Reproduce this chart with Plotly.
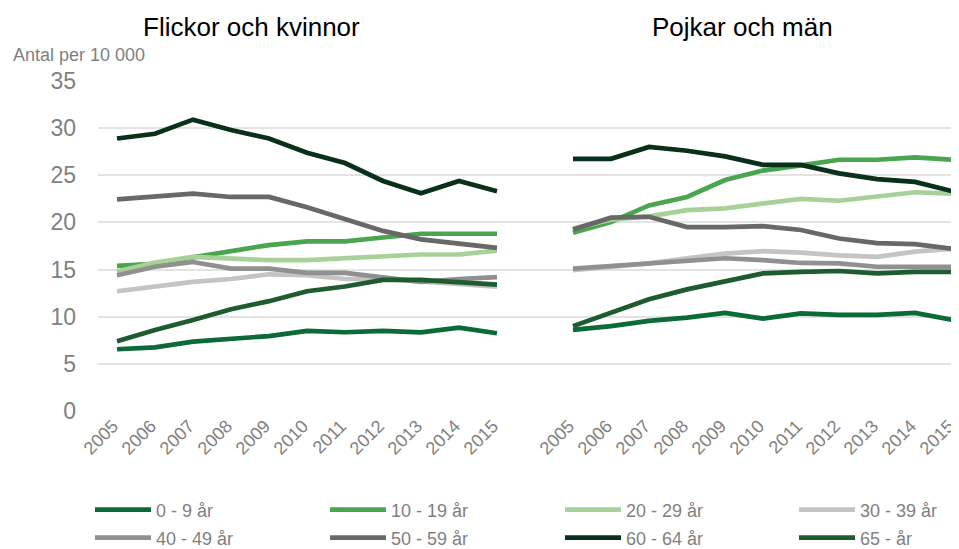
import plotly.graph_objects as go

years = ["2005", "2006", "2007", "2008", "2009", "2010", "2011", "2012", "2013", "2014", "2015"]
groups = ["0 - 9 år", "10 - 19 år", "20 - 29 år", "30 - 39 år",
          "40 - 49 år", "50 - 59 år", "60 - 64 år", "65 - år"]
colors = ["#0a6b38", "#49a54e", "#a8d19a", "#c4c4c4",
          "#909090", "#686868", "#08301b", "#1e5c30"]

# Flickor och kvinnor
f_0_9 = [6.55, 6.75, 7.35, 7.6, 7.95, 8.5, 8.35, 8.5, 8.35, 8.85, 8.25]
f_10_19 = [15.4, 15.6, 16.3, 17.0, 17.6, 18.0, 18.0, 18.4, 18.8, 18.8, 18.8]
f_20_29 = [14.8, 15.75, 16.35, 16.2, 16.0, 16.0, 16.2, 16.3, 16.6, 16.6, 17.0]
f_30_39 = [12.7, 13.25, 13.7, 14.0, 14.5, 14.4, 14.0, 14.0, 13.7, 13.5, 13.2]
f_40_49 = [14.4, 15.3, 15.8, 15.1, 15.1, 14.65, 14.65, 14.2, 13.7, 14.0, 14.2]
f_50_59 = [22.45, 22.7, 23.05, 22.7, 22.7, 21.6, 20.3, 19.1, 18.2, 17.8, 17.3]
f_60_64 = [28.9, 29.4, 30.9, 29.8, 28.9, 27.4, 26.3, 24.4, 23.1, 24.4, 23.3]
f_65 = [7.4, 8.6, 9.65, 10.8, 11.65, 12.7, 13.2, 13.9, 13.9, 13.7, 13.4]

# Pojkar och män
m_0_9 = [8.6, 9.0, 9.55, 9.9, 10.4, 9.8, 10.35, 10.2, 10.2, 10.4, 9.65]
m_10_19 = [18.9, 20.05, 21.8, 22.7, 24.5, 25.5, 26.05, 26.65, 26.65, 26.9, 26.65]
m_20_29 = [19.35, 20.3, 20.65, 21.3, 21.5, 22.0, 22.5, 22.3, 22.8, 23.2, 23.05]
m_30_39 = [14.95, 15.3, 15.65, 16.2, 16.7, 16.95, 16.8, 16.5, 16.35, 16.9, 17.2]
m_40_49 = [15.1, 15.35, 15.65, 15.9, 16.2, 16.0, 15.7, 15.65, 15.3, 15.3, 15.3]
m_50_59 = [19.25, 20.5, 20.6, 19.5, 19.5, 19.6, 19.2, 18.3, 17.8, 17.7, 17.2]
m_60_64 = [26.75, 26.75, 28.0, 27.6, 27.0, 26.1, 26.1, 25.2, 24.6, 24.3, 23.3]
m_65 = [9.0, 10.4, 11.85, 12.9, 13.8, 14.6, 14.75, 14.85, 14.6, 14.75, 14.75]

female = [f_0_9, f_10_19, f_20_29, f_30_39, f_40_49, f_50_59, f_60_64, f_65]
male = [m_0_9, m_10_19, m_20_29, m_30_39, m_40_49, m_50_59, m_60_64, m_65]

y_ticks = [0, 5, 10, 15, 20, 25, 30, 35]

n = len(years)
x_left = list(range(n))
x_right = list(range(n + 1, 2 * n + 1))
x_all = x_left + [n] + x_right

GRAY = "#7f7f7f"
FONT = "Liberation Sans, Arial, sans-serif"

# the page body has an 8px margin; the figure is sized to fill the rest
OFF = 8
W, H = 959 - OFF, 549 - OFF
PLOT_LEFT, PLOT_RIGHT, PLOT_TOP, PLOT_BOTTOM = 98, 959, 81, 411  # page pixels
L = PLOT_LEFT - OFF
R = 0
T = PLOT_TOP - OFF
B = H - (PLOT_BOTTOM - OFF)
PW, PH = W - L - R, H - T - B


def px(xpage):
    return (xpage - PLOT_LEFT) / PW


def py(ypage):
    return (PLOT_BOTTOM - ypage) / PH


fig = go.Figure()
legend_names = ["legend"] + ["legend%d" % k for k in range(2, 9)]
for i, (g, c) in enumerate(zip(groups, colors)):
    fig.add_trace(go.Scatter(
        x=x_all,
        y=female[i] + [None] + male[i],
        mode="lines",
        name=g,
        connectgaps=False,
        line=dict(color=c, width=4.7),
        legend=legend_names[i],
        hoverinfo="skip",
    ))

col_x = [90, 325, 560, 794]
row_y = [510, 538]
legends = {}
for i, ln in enumerate(legend_names):
    legends[ln] = dict(
        x=px(col_x[i % 4]), xanchor="left",
        y=py(row_y[i // 4]), yanchor="middle",
        itemwidth=56,
        font=dict(size=18, color=GRAY, family=FONT),
        bgcolor="rgba(0,0,0,0)",
    )

fig.update_layout(
    width=W, height=H,
    margin=dict(l=L, r=R, t=T, b=B, autoexpand=False),
    plot_bgcolor="white", paper_bgcolor="white",
    font=dict(family=FONT, color=GRAY),
    xaxis=dict(
        range=[-0.5, 22.158],
        tickvals=x_left + x_right,
        ticktext=years + years,
        tickangle=-45,
        tickfont=dict(size=18, color=GRAY),
        ticklabeloverflow="allow",
        ticklabelshift=-4,
        showgrid=False, zeroline=False, showline=False, ticks="",
        fixedrange=True,
    ),
    yaxis=dict(
        range=[0, 35],
        tickvals=y_ticks,
        tickfont=dict(size=23, color=GRAY),
        showgrid=True, gridcolor="#e3e3e3", gridwidth=1.5,
        zeroline=False, showline=False, ticks="",
        ticklabelstandoff=21,
        fixedrange=True,
    ),
    showlegend=True,
    annotations=[
        dict(text="Flickor och kvinnor", xref="paper", yref="paper",
             x=px(251), y=py(27), xanchor="center", yanchor="middle",
             showarrow=False, font=dict(size=26, color="#000000", family=FONT)),
        dict(text="Pojkar och män", xref="paper", yref="paper",
             x=px(742), y=py(27), xanchor="center", yanchor="middle",
             showarrow=False, font=dict(size=26, color="#000000", family=FONT)),
        dict(text="Antal per 10 000", xref="paper", yref="paper",
             x=px(11), y=py(55), xanchor="left", yanchor="middle",
             showarrow=False, font=dict(size=18, color=GRAY, family=FONT)),
    ],
    **legends,
)

fig.write_html("out.html")
